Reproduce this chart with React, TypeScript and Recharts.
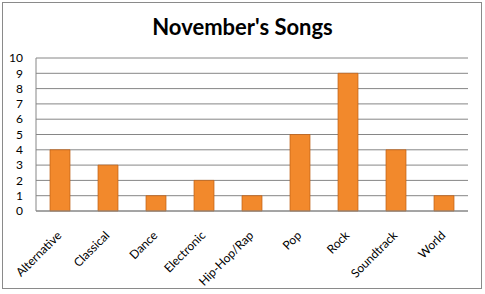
import { Bar, BarChart, CartesianGrid, XAxis, YAxis } from "recharts";

const genres = ["Alternative", "Classical", "Dance", "Electronic", "Hip-Hop/Rap", "Pop", "Rock", "Soundtrack", "World"];
const songs = [4, 3, 1, 2, 1, 5, 9, 4, 1];
const yTicks = [0, 1, 2, 3, 4, 5, 6, 7, 8, 9, 10];

const rows = genres.map((g, i) => ({ name: g, value: songs[i] }));

const font = "Lato, 'Open Sans', sans-serif";

function XTick(props: any) {
  const { payload } = props;
  const ax = Number(props.x) - 1;
  const ay = Number(props.y) + 20;
  return (
    <text
      x={ax}
      y={ay}
      transform={`rotate(-45, ${ax}, ${ay})`}
      textAnchor="end"
      dominantBaseline="central"
      fontSize={12}
      fontFamily={font}
      fill="#000"
    >
      {payload.value}
    </text>
  );
}

export default function App() {
  return (
    <div style={{ position: "absolute", left: 0, top: 0, width: 485, height: 294, background: "#fff" }}>
      <div
        style={{
          position: "absolute",
          left: 2,
          top: 2,
          width: 478,
          height: 285,
          border: "1.5px solid #8a8a8a",
        }}
      />
      <div
        style={{
          position: "absolute",
          left: 0,
          top: 13,
          width: 485,
          textAlign: "center",
          fontFamily: font,
          fontWeight: 700,
          fontSize: 22,
          color: "#000",
        }}
      >
        November's Songs
      </div>
      <div style={{ position: "absolute", left: 0, top: 0 }}>
        <BarChart width={485} height={294} data={rows} margin={{ top: 58, right: 17, bottom: 13, left: 8 }} barSize={20}>
          <CartesianGrid vertical={false} stroke="#868686" strokeWidth={1} />
          <XAxis
            dataKey="name"
            height={70}
            interval={0}
            tickLine={false}
            tickSize={0}
            tick={<XTick />}
            axisLine={{ stroke: "#868686" }}
          />
          <YAxis
            width={28}
            domain={[0, 10]}
            ticks={yTicks}
            interval={0}
            tickLine={false}
            tickSize={0}
            tickMargin={13}
            axisLine={{ stroke: "#868686" }}
            tick={{ fill: "#000", fontSize: 12, fontFamily: font }}
          />
          <Bar dataKey="value" fill="#f2892c" stroke="#bd5e16" strokeWidth={0.7} isAnimationActive={false} />
        </BarChart>
      </div>
    </div>
  );
}
